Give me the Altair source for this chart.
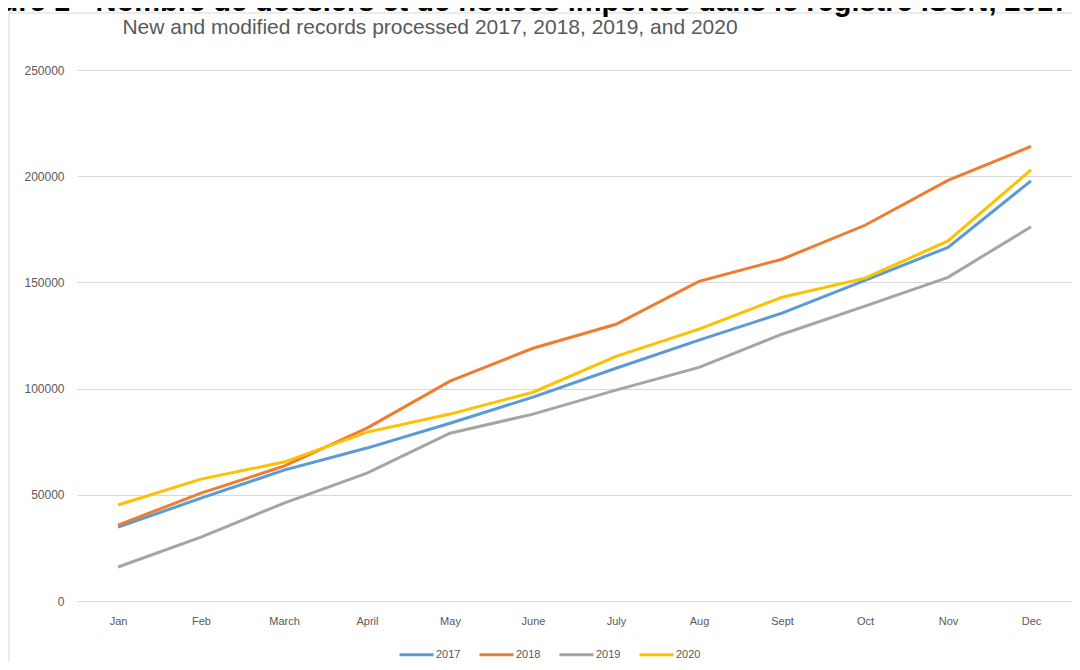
import altair as alt
import pandas as pd

months = ["Jan", "Feb", "March", "April", "May", "June", "July", "Aug", "Sept", "Oct", "Nov", "Dec"]
years = ["2017", "2018", "2019", "2020"]
colors = ["#5B9BD5", "#ED7D31", "#A5A5A5", "#FFC000"]

v2017 = [34800, 48400, 61600, 72000, 83700, 96000, 109600, 122800, 135500, 151000, 166500, 197800]
v2018 = [35700, 50800, 63500, 81400, 103500, 119000, 130300, 150500, 160900, 176900, 198000, 214000]
v2019 = [16000, 30100, 46100, 60200, 79000, 88000, 99300, 110000, 125600, 138800, 152400, 176200]
v2020 = [45200, 57400, 65400, 79500, 88000, 98300, 115200, 128000, 143000, 152000, 169500, 203000]

y_ticks = [0, 50000, 100000, 150000, 200000, 250000]

title_text = "Figure 1 - Nombre de dossiers et de notices importés dans le registre ISSN, 2017-2020"
subtitle_text = "New and modified records processed 2017, 2018, 2019, and 2020"

rows = []
for yr, vals in zip(years, [v2017, v2018, v2019, v2020]):
    for m, v in zip(months, vals):
        rows.append({"month": m, "year": yr, "value": v})
df = pd.DataFrame(rows)

FONT = "Liberation Sans"
GRAY = "#595959"

lines = alt.Chart(df).mark_line(strokeWidth=3).encode(
    x=alt.X(
        "month:N",
        sort=months,
        scale=alt.Scale(type="point", padding=0.494),
        axis=alt.Axis(title=None, ticks=False, domain=False, grid=False,
                      labelColor=GRAY, labelFontSize=11, labelFont=FONT,
                      labelPadding=14, labelAngle=0),
    ),
    y=alt.Y(
        "value:Q",
        scale=alt.Scale(domain=[0, 250000], nice=False),
        axis=alt.Axis(title=None, values=y_ticks, format="d", ticks=False, domain=False,
                      grid=True, gridColor="#d9d9d9", gridWidth=1,
                      labelColor=GRAY, labelFontSize=12, labelFont=FONT, labelPadding=13),
    ),
    color=alt.Color(
        "year:N",
        scale=alt.Scale(domain=years, range=colors),
        legend=alt.Legend(orient="none", legendX=321, legendY=566, direction="horizontal",
                          title=None, symbolType="stroke", symbolSize=1156,
                          symbolStrokeWidth=3, labelColor=GRAY, labelFontSize=11,
                          labelFont=FONT, labelOffset=1, columnPadding=12),
    ),
)

one = pd.DataFrame({"a": [0]})

border_left = alt.Chart(one).mark_rule(color="#d9d9d9", strokeWidth=1).encode(
    x=alt.value(-68), y=alt.value(-57), y2=alt.value(600)
)
border_top = alt.Chart(one).mark_rule(color="#d9d9d9", strokeWidth=1).encode(
    x=alt.value(-68), x2=alt.value(1000), y=alt.value(-57)
)

title = alt.Chart(one).mark_text(
    text=title_text, align="left", baseline="alphabetic", fontSize=29,
    fontWeight="bold", font=FONT, color="black"
).encode(x=alt.value(-120), y=alt.value(-59))

subtitle = alt.Chart(one).mark_text(
    text=subtitle_text, align="center", baseline="alphabetic", fontSize=21,
    font=FONT, color=GRAY
).encode(x=alt.value(353), y=alt.value(-36))

chart = alt.layer(border_left, border_top, lines, title, subtitle).properties(
    width=995,
    height=531,
    autosize=alt.AutoSizeParams(type="none"),
    padding={"left": 69, "top": 62, "right": 0, "bottom": 61},
).configure_view(stroke=None)

chart.save("out.html", embed_options={"renderer": "svg", "actions": False})
